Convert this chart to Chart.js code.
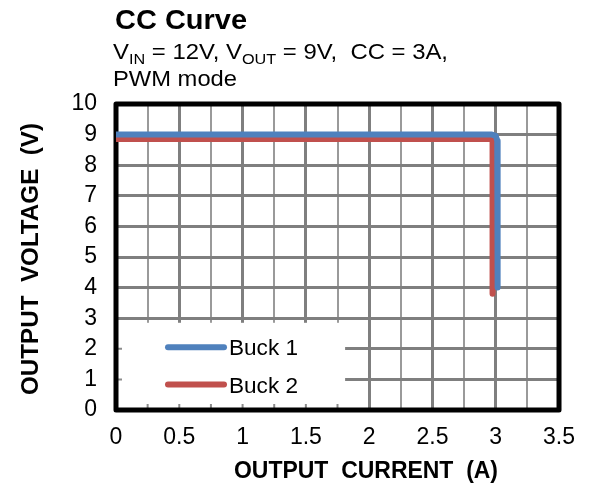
<!DOCTYPE html>
<html>
<head>
<meta charset="utf-8">
<script src="https://cdn.jsdelivr.net/npm/chart.js@4"></script>
<style>
  html, body { margin: 0; padding: 0; background: #fff; }
  #wrap { width: 589px; height: 487px; }
</style>
</head>
<body>
<div id="wrap"><canvas id="grafica"></canvas></div>
<script>
// CC curve data: output current (A) vs output voltage (V)
const buck1Current = [0, 2.97, 3.0, 3.012, 3.015];
const buck1Voltage = [9.0, 9.0, 8.96, 8.8, 4.0];
const buck2Current = [0, 2.975, 2.975];
const buck2Voltage = [8.86, 8.86, 3.8];

const seriesNames = ["Buck 1", "Buck 2"];
const seriesColors = ["#4f81bd", "#c0504d"];

const xTicks = [0, 0.5, 1, 1.5, 2, 2.5, 3, 3.5];
const yTicks = [0, 1, 2, 3, 4, 5, 6, 7, 8, 9, 10];

const FONT = "'Liberation Sans', Arial, sans-serif";

function toPoints(xs, ys) {
    return xs.map((x, i) => ({x: x, y: ys[i]}));
}

// draws text squeezed/stretched to a given width
function fitText(ctx, text, x, y, font, width) {
    ctx.save();
    ctx.font = font;
    const w = ctx.measureText(text).width;
    ctx.translate(x, y);
    ctx.scale(width / w, 1);
    ctx.fillText(text, 0, 0);
    ctx.restore();
}

// text made of runs, some of them subscripts
function drawRuns(ctx, runs, x, y, size, width) {
    ctx.save();
    let total = 0;
    runs.forEach(r => {
        ctx.font = (r.sub ? size * 0.68 : size) + "px " + FONT;
        total += ctx.measureText(r.t).width;
    });
    ctx.translate(x, y);
    ctx.scale(width / total, 1);
    let cx = 0;
    runs.forEach(r => {
        ctx.font = (r.sub ? size * 0.68 : size) + "px " + FONT;
        ctx.fillText(r.t, cx, r.sub ? size * 0.22 : 0);
        cx += ctx.measureText(r.t).width;
    });
    ctx.restore();
}

const decor = {
    id: 'decor',
    beforeDatasetsDraw(chart) {
        const {ctx, chartArea: a, scales: {x, y}} = chart;
        ctx.save();
        // legend box hides the grid
        const bx = a.left, by = y.getPixelForValue(2.85), bw = x.getPixelForValue(1.81) - a.left;
        ctx.fillStyle = "#fff";
        ctx.fillRect(bx, by, bw, a.bottom - by);
        // inner tick marks inside the legend box
        ctx.strokeStyle = "#8c8c8c";
        ctx.lineWidth = 2;
        ctx.beginPath();
        for (let v = 0.25; v < 1.8; v += 0.25) {
            const px = x.getPixelForValue(v);
            ctx.moveTo(px, a.bottom);
            ctx.lineTo(px, a.bottom - 6);
        }
        [1, 2].forEach(v => {
            const py = y.getPixelForValue(v);
            ctx.moveTo(a.left, py);
            ctx.lineTo(a.left + 6, py);
        });
        ctx.stroke();
        // plot frame
        ctx.strokeStyle = "#000";
        ctx.lineWidth = 5;
        ctx.lineJoin = "round";
        ctx.strokeRect(a.left, a.top, a.right - a.left, a.bottom - a.top);
        ctx.restore();
    },
    afterDraw(chart) {
        const {ctx, scales: {x, y}} = chart;
        ctx.save();
        ctx.fillStyle = "#000";
        ctx.textBaseline = "alphabetic";
        fitText(ctx, "CC Curve", 115, 29, "bold 28px " + FONT, 132);
        drawRuns(ctx, [
            {t: "V"}, {t: "IN", sub: true}, {t: " = 12V, V"}, {t: "OUT", sub: true}, {t: " = 9V,  CC = 3A,"}
        ], 113, 59, 22, 335);
        fitText(ctx, "PWM mode", 113, 86, "22px " + FONT, 124);
        fitText(ctx, "OUTPUT  CURRENT  (A)", 234, 478, "bold 24px " + FONT, 264);
        ctx.save();
        ctx.translate(38, 395);
        ctx.rotate(-Math.PI / 2);
        fitText(ctx, "OUTPUT  VOLTAGE  (V)", 0, 0, "bold 24px " + FONT, 272);
        ctx.restore();

        // legend entries
        const ly = [y.getPixelForValue(2.05), y.getPixelForValue(0.83)];
        seriesNames.forEach((name, i) => {
            ctx.strokeStyle = seriesColors[i];
            ctx.lineWidth = 6;
            ctx.lineCap = "round";
            ctx.beginPath();
            ctx.moveTo(168, ly[i]);
            ctx.lineTo(224, ly[i]);
            ctx.stroke();
            fitText(ctx, name, 229, ly[i] + 8, "22px " + FONT, 69);
        });
        ctx.restore();
    }
};

const data = {
    datasets: [
        {
            label: seriesNames[0],
            data: toPoints(buck1Current, buck1Voltage),
            borderColor: seriesColors[0],
            borderWidth: 6,
            borderJoinStyle: 'round',
            showLine: true,
            pointRadius: 0,
        },
        {
            label: seriesNames[1],
            data: toPoints(buck2Current, buck2Voltage),
            borderColor: seriesColors[1],
            borderWidth: 6,
            borderCapStyle: 'round',
            borderJoinStyle: 'round',
            showLine: true,
            pointRadius: 0,
        }
    ]
};

const config = {
    type: 'scatter',
    data: data,
    options: {
        responsive: false,
        animation: false,
        layout: {padding: {top: 104, right: 27, left: 0, bottom: 0}},
        plugins: {legend: {display: false}, tooltip: {enabled: false}},
        scales: {
            x: {
                min: 0, max: 3.5,
                afterFit: (s) => { s.height = 77; },
                border: {display: false},
                grid: {
                    drawTicks: false,
                    color: (c) => (Math.round(c.tick.value * 4) % 2 === 0 ? "#7f7f7f" : "#9a9a9a"),
                    lineWidth: (c) => (Math.round(c.tick.value * 4) % 2 === 0 ? 3 : 2),
                },
                ticks: {
                    stepSize: 0.25,
                    padding: 14,
                    maxRotation: 0,
                    autoSkip: false,
                    color: "#000",
                    font: {family: FONT, size: 23},
                    callback: (v) => (xTicks.includes(v) ? String(v) : ""),
                }
            },
            y: {
                min: 0, max: 10,
                afterFit: (s) => { s.width = 116; },
                border: {display: false},
                grid: {drawTicks: false, color: "#7f7f7f", lineWidth: 3},
                ticks: {
                    stepSize: 1,
                    padding: 19,
                    color: "#000",
                    font: {family: FONT, size: 23},
                    callback: (v) => (yTicks.includes(v) ? String(v) : ""),
                }
            }
        }
    },
    plugins: [decor]
};

const canvas = document.getElementById('grafica');
canvas.width = 589;
canvas.height = 487;
const ctx = canvas.getContext('2d');
const graficaCC = new Chart(ctx, config);
</script>
</body>
</html>
